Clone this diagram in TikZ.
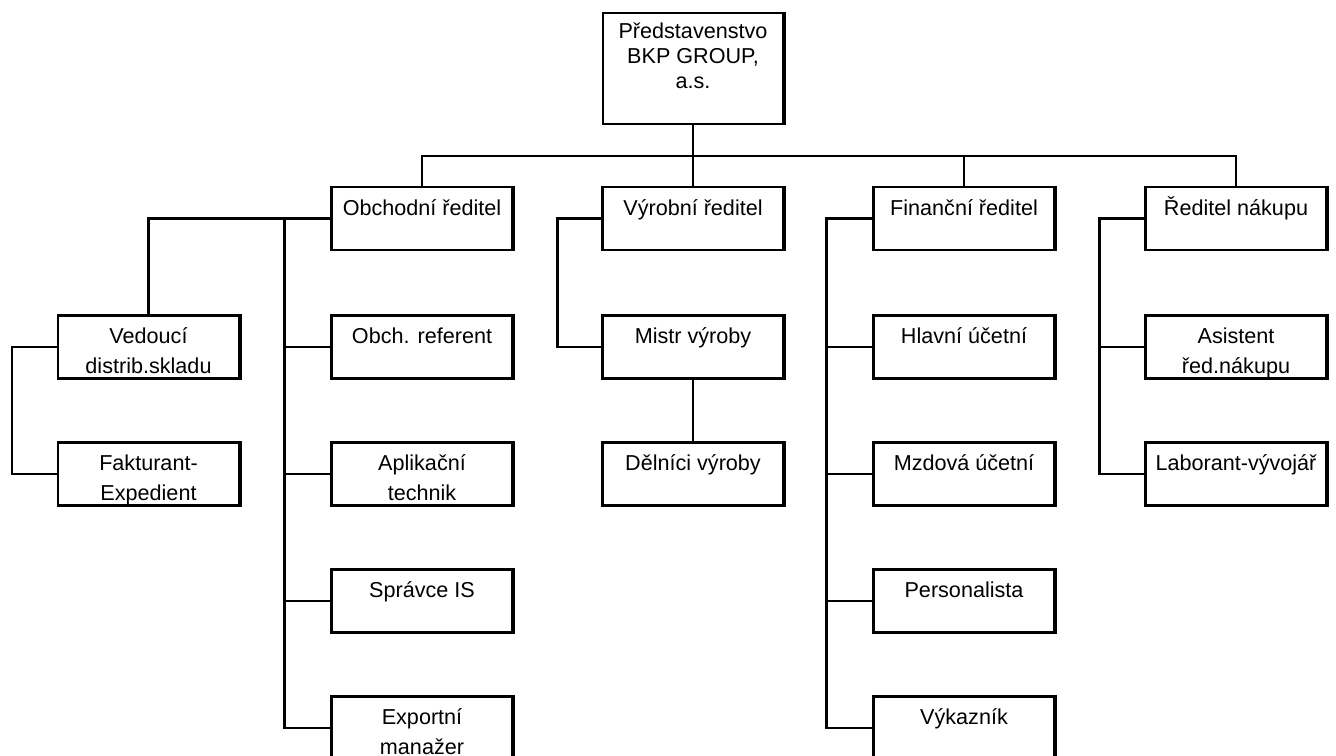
\documentclass[tikz,border=0pt]{standalone}
\usepackage{fontspec}
\setmainfont{Liberation Sans}
\usepackage{tikz}
\newcommand{\posttext}[1]{\parbox[c][31.5pt][t]{90.5pt}{\centering\rule{0pt}{14pt}#1}}

\begin{document}
\begin{tikzpicture}[x=0.5pt,y=-0.5pt]
    \tikzset{post/.style={draw,line width=1.1pt,inner sep=0pt,font=\fontsize{10.8}{15}\selectfont,
               append after command={(\tikzlastnode.north east) edge[line width=1.6pt] (\tikzlastnode.south east)}},
             link/.style={line width=1.2pt}}
    \clip (0,0) rectangle (1336,755);
    \node[post] (board) at (693,68.5) {\parbox[c][55.5pt][t]{90pt}{\centering\fontsize{10.8}{12.5}\selectfont\rule{0pt}{12.5pt}Představenstvo\\BKP GROUP,\\a.s.}};
    \foreach \x/\name/\txt in {422/obch/Obchodní ředitel,693/vyr/Výrobní ředitel,964/fin/Finanční ředitel,1236/nak/Ředitel nákupu} {
     \node[post] (\name) at (\x,218.5) {\posttext{\txt}};
    }
    \foreach \y/\name/\txt in {347/obch1/Obch. referent,474/obch2/{Aplikační\\technik},601/obch3/Správce IS,728/obch4/{Exportní\\manažer}} {
     \node[post] (\name) at (422,\y) {\posttext{\txt}};
    }
    \foreach \y/\name/\txt in {347/fin1/Hlavní účetní,474/fin2/Mzdová účetní,601/fin3/Personalista,728/fin4/Výkazník} {
     \node[post] (\name) at (964,\y) {\posttext{\txt}};
    }
    \node[post] (skl) at (148.5,347) {\posttext{Vedoucí\\distrib.skladu}};
    \node[post] (fakt) at (148.5,474) {\posttext{Fakturant-\\Expedient}};
    \node[post] (mistr) at (693,347) {\posttext{Mistr výroby}};
    \node[post] (delnici) at (693,474) {\posttext{Dělníci výroby}};
    \node[post] (nak1) at (1236,347) {\posttext{Asistent\\řed.nákupu}};
    \node[post] (nak2) at (1236,474) {\posttext{Laborant-vývojář}};
    \coordinate (bus) at (693,156);
    \draw[link] (board) -- (vyr);
    \draw[link] (obch.north) |- (bus) -| (nak.north);
    \draw[link] (fin.north) -- (fin.north |- bus);
    \draw[link] (obch.west) -| (skl.north);
    \draw[link] (obch4.west) -- ++(-46,0) |- (obch.west);
    \draw[link] (skl.west) -- ++(-45,0) |- (fakt.west);
    \draw[link] (vyr.west) -- ++(-44,0) |- (mistr.west);
    \draw[link] (mistr) -- (delnici);
    \draw[link] (fin.west) -- ++(-46,0) |- (fin4.west);
    \draw[link] (nak.west) -- ++(-45,0) |- (nak2.west);
    \foreach \name in {obch1,obch2,obch3,fin1,fin2,fin3,nak1} {
     \draw[link] (\name.west) -- ++(-45.5,0);
    }
\end{tikzpicture}
\end{document}
